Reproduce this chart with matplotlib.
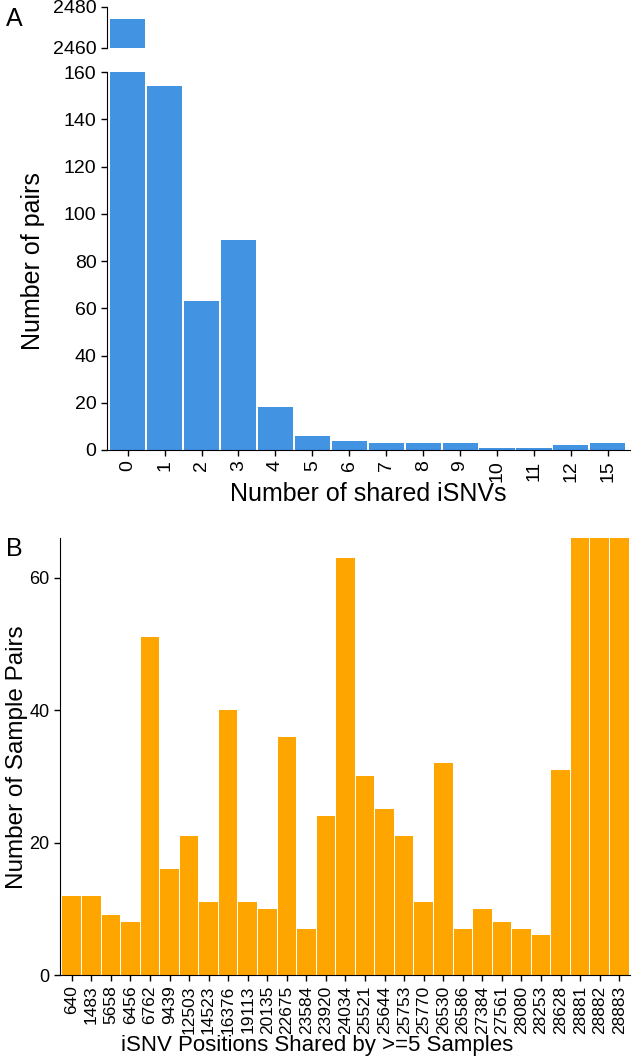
import numpy as np
import matplotlib
matplotlib.use("Agg")
import matplotlib.pyplot as plt

plt.rcParams['font.family'] = ['Liberation Sans', 'DejaVu Sans']

# Panel A: distribution of shared iSNVs per pair
shared_labels = ['0', '1', '2', '3', '4', '5', '6', '7', '8', '9', '10', '11', '12', '15']
pair_counts = [2474, 154, 63, 89, 18, 6, 4, 3, 3, 3, 1, 1, 2, 3]

# Panel B: iSNV positions shared by >=5 samples
positions = ['640', '1483', '5658', '6456', '6762', '9439', '12503', '14523', '16376',
             '19113', '20135', '22675', '23584', '23920', '24034', '25521', '25644',
             '25753', '25770', '26530', '26586', '27384', '27561', '28080', '28253',
             '28628', '28881', '28882', '28883']
sample_pairs = [12, 12, 9, 8, 51, 16, 21, 11, 40, 11, 10, 36, 7, 24, 63, 30, 25,
                21, 11, 32, 7, 10, 8, 7, 6, 31, 70, 70, 70]

blue = '#4393E3'
orange = '#FFA500'

W, H = 633, 1057
fig = plt.figure(figsize=(W / 100, H / 100), dpi=100)

def frac(x0, y0, x1, y1):
    # pixel box (top-left origin) -> figure fraction
    return [x0 / W, 1 - y1 / H, (x1 - x0) / W, (y1 - y0) / H]

ax_top = fig.add_axes(frac(107, 7, 630, 48))
ax_a = fig.add_axes(frac(107, 72, 630, 450))
ax_b = fig.add_axes(frac(60, 538, 630, 975))

xa = np.arange(len(shared_labels))
for ax in (ax_top, ax_a):
    ax.bar(xa, pair_counts, width=0.95, color=blue, edgecolor='none')
    ax.set_xlim(-0.56, 13.6)
    for s in ('top', 'right'):
        ax.spines[s].set_visible(False)
    ax.tick_params(axis='y', labelsize=14, length=4, width=1)

ax_top.set_ylim(2460, 2480)
ax_top.set_yticks([2460, 2480])
ax_top.spines['bottom'].set_visible(False)
ax_top.set_xticks([])

ax_a.set_ylim(0, 160)
ax_a.set_yticks(np.arange(0, 161, 20))
ax_a.set_xticks(xa)
ax_a.set_xticklabels(shared_labels, rotation=90, fontsize=14)
ax_a.tick_params(axis='x', length=4, width=1)
ax_a.set_ylabel('Number of pairs', fontsize=18, va='center')
ax_a.set_xlabel('Number of shared iSNVs', fontsize=18, va='center')
ax_a.yaxis.set_label_coords((33 - 107) / 523, 0.5)
ax_a.xaxis.set_label_coords(0.5, (450 - 494) / 378)

xb = np.arange(len(positions))
ax_b.bar(xb, sample_pairs, width=0.95, color=orange, edgecolor='none')
ax_b.set_xlim(-0.6, len(positions) - 0.45)
ax_b.set_ylim(0, 66)
ax_b.set_yticks([0, 20, 40, 60])
ax_b.set_xticks(xb)
ax_b.set_xticklabels(positions, rotation=90, fontsize=12.5)
ax_b.tick_params(axis='y', labelsize=13, length=4, width=1)
ax_b.tick_params(axis='x', length=4, width=1)
for s in ('top', 'right'):
    ax_b.spines[s].set_visible(False)
ax_b.set_ylabel('Number of Sample Pairs', fontsize=17.5, va='center')
ax_b.set_xlabel('iSNV Positions Shared by >=5 Samples', fontsize=16, va='center')
ax_b.yaxis.set_label_coords((17 - 60) / 570, (975 - 757) / 437)
ax_b.xaxis.set_label_coords((317 - 60) / 570, (975 - 1045) / 437)

fig.text(14 / W, 1 - 19 / H, 'A', fontsize=18, ha='center', va='center')
fig.text(14 / W, 1 - 549 / H, 'B', fontsize=18, ha='center', va='center')

fig.savefig('out.png', dpi=100)
